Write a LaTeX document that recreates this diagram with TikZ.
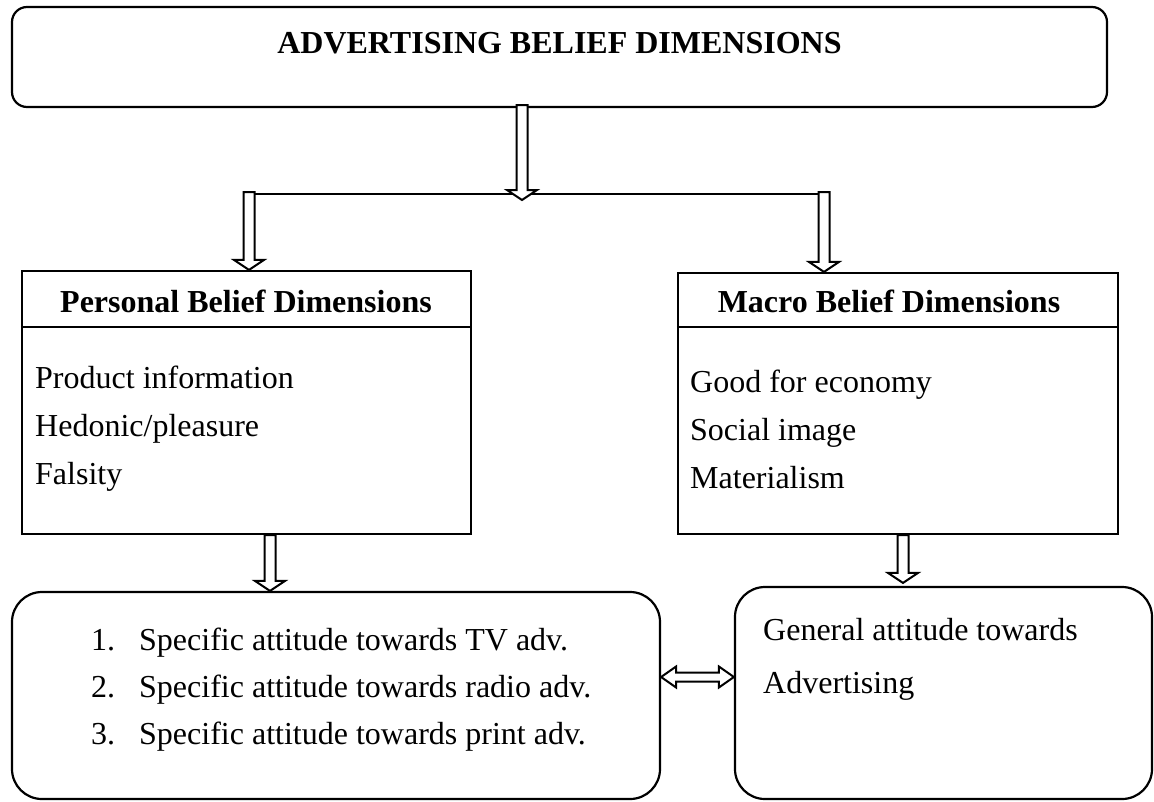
\documentclass[tikz,border=0pt]{standalone}
\usepackage{fontspec}
\setmainfont{Liberation Serif}
\usepackage{tikz}
\usetikzlibrary{calc}

\tikzset{
  box/.style={draw, line width=2.2pt, inner sep=0pt},
  hd/.style={font=\fontsize{32}{38}\selectfont\bfseries, inner sep=0pt, anchor=base},
  txt/.style={font=\fontsize{32}{38}\selectfont, inner sep=0pt, anchor=base west},
  hollowdown/.style={draw, line width=2pt, fill=white, to path={let \p1=(\tikztostart), \p2=(\tikztotarget) in
    (\x1-5.5pt,\y1) -- (\x1-5.5pt,\y2+10pt) -- (\x1-15pt,\y2+10pt) -- (\x1,\y2) -- (\x1+15pt,\y2+10pt) -- (\x1+5.5pt,\y2+10pt) -- (\x1+5.5pt,\y1) -- cycle}},
  hollowboth/.style={draw, line width=2pt, fill=white, to path={let \p1=(\tikztostart), \p2=(\tikztotarget) in
    (\x1,\y1) -- (\x1+15pt,\y1+10.5pt) -- (\x1+15pt,\y1+4.5pt) -- (\x2-15pt,\y1+4.5pt) -- (\x2-15pt,\y1+10.5pt) -- (\x2,\y1)
    -- (\x2-15pt,\y1-10.5pt) -- (\x2-15pt,\y1-4.5pt) -- (\x1+15pt,\y1-4.5pt) -- (\x1+15pt,\y1-10.5pt) -- cycle}}
}

\begin{document}
\begin{tikzpicture}[x=1pt, y=-1pt]
            \useasboundingbox (0,0) rectangle (1154,801);
            \node[box, minimum width=1095pt, minimum height=100pt, rounded corners=15pt] (adv) at (559.5,57) {};
            \node[hd] (advt) at (559.5,53) {ADVERTISING BELIEF DIMENSIONS};
            \node[box, minimum width=449pt, minimum height=263pt] (pers) at (246.5,402.5) {};
            \node[box, minimum width=440pt, minimum height=261pt] (mac) at (898,403.5) {};
            \node[box, minimum width=648pt, minimum height=207pt, rounded corners=30pt] (lbox) at (336,695.5) {};
            \node[box, minimum width=417pt, minimum height=212pt, rounded corners=30pt] (rbox) at (943.5,693) {};
            \coordinate (hdr) at (0,327);
            \draw[line width=1.2pt] (pers.west |- hdr) -- (pers.east |- hdr);
            \draw[line width=1.2pt] (mac.west |- hdr) -- (mac.east |- hdr);
            \node[hd] (perst) at (246,312) {Personal Belief Dimensions};
            \node[hd] (mact) at (889,312) {Macro Belief Dimensions};
            \node[txt] (p1) at (35,388) {Product information};
            \node[txt] (p2) at (35,436) {Hedonic/pleasure};
            \node[txt] (p3) at (35,484) {Falsity};
            \node[txt] (m1) at (690,392) {Good for economy};
            \node[txt] (m2) at (690,440) {Social image};
            \node[txt] (m3) at (690,488) {Materialism};
            \node[txt] (l1) at (91,650) {\makebox[48pt][l]{1.}Specific attitude towards TV adv.};
            \node[txt] (l2) at (91,697) {\makebox[48pt][l]{2.}Specific attitude towards radio adv.};
            \node[txt] (l3) at (91,744) {\makebox[48pt][l]{3.}Specific attitude towards print adv.};
            \node[txt] (g1) at (763,640) {General attitude towards};
            \node[txt] (g2) at (763,693) {Advertising};
            \coordinate (sl) at (249,194);
            \coordinate (sr) at (824,194);
            \coordinate (sm) at (522,200);
            \coordinate (la) at (270,0);
            \coordinate (ra) at (903,0);
            \coordinate (dm) at (0,677);
            \draw[line width=1.3pt] (sl) -- (sr);
            \draw[hollowdown] ([yshift=3pt]adv.south -| sm) to (sm);
            \draw[hollowdown] ([yshift=2pt]sl) to (pers.north -| sl);
            \draw[hollowdown] ([yshift=2pt]sr) to (mac.north -| sr);
            \draw[hollowdown] (pers.south -| la) to (lbox.north -| la);
            \draw[hollowdown] (mac.south -| ra) to ([yshift=3pt]rbox.north -| ra);
            \draw[hollowboth] (lbox.east |- dm) to (rbox.west |- dm);
          \end{tikzpicture}
\end{document}
